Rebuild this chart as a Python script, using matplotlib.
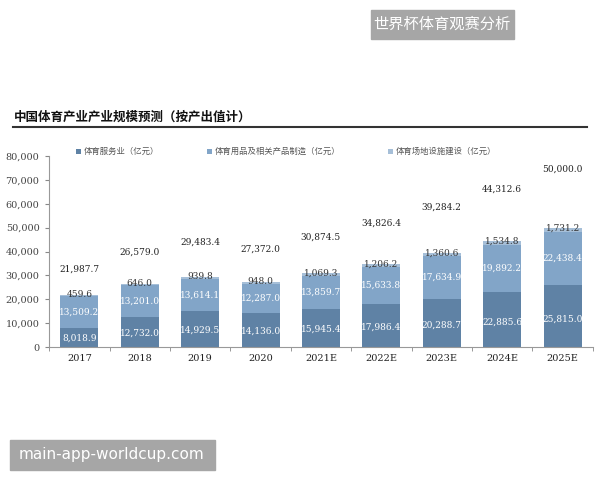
import matplotlib.pyplot as plt
import numpy as np
from matplotlib.patches import Rectangle

plt.rcParams['font.family'] = ['Noto Sans CJK SC', 'DejaVu Sans']

years = ['2017', '2018', '2019', '2020', '2021E', '2022E', '2023E', '2024E', '2025E']
service = [8018.9, 12732.0, 14929.5, 14136.0, 15945.4, 17986.4, 20288.7, 22885.6, 25815.0]
goods = [13509.2, 13201.0, 13614.1, 12287.0, 13859.7, 15633.8, 17634.9, 19892.2, 22438.4]
venue = [459.6, 646.0, 939.8, 948.0, 1069.3, 1206.2, 1360.6, 1534.8, 1731.2]
totals = [21987.7, 26579.0, 29483.4, 27372.0, 30874.5, 34826.4, 39284.2, 44312.6, 50000.0]
names = ['体育服务业（亿元）', '体育用品及相关产品制造（亿元）', '体育场地设施建设（亿元）']
colors = ['#5f82a5', '#82a5c8', '#a6bfd8']

fig = plt.figure(figsize=(6, 4.8), dpi=100)
ax = fig.add_axes([0.082, 0.277, 0.906, 0.398])

x = np.arange(len(years))
w = 0.63
s = np.array(service)
g = np.array(goods)
v = np.array(venue)
ax.bar(x, s, w, color=colors[0], label=names[0])
ax.bar(x, g, w, bottom=s, color=colors[1], label=names[1])
ax.bar(x, v, w, bottom=s + g, color=colors[2], label=names[2])

num = dict(family='DejaVu Serif', fontsize=6.5, ha='center', va='center')
for i in range(len(years)):
    ax.text(x[i], s[i] * 0.46, f'{s[i]:,.1f}', color='white', **num)
    ax.text(x[i], s[i] + g[i] * 0.5, f'{g[i]:,.1f}', color='white', **num)
    ax.text(x[i], s[i] + g[i] + v[i], f'{v[i]:,.1f}', color='#333333', **num)
    ax.text(x[i], totals[i] * 1.49, f'{totals[i]:,.1f}', color='#222222', **num)

ax.set_xlim(-0.5, len(years) - 0.5)
ax.set_ylim(0, 80000)
ax.set_yticks(np.arange(0, 80001, 10000))
ax.set_yticklabels([f'{t:,}' for t in range(0, 80001, 10000)],
                   family='DejaVu Serif', fontsize=7, color='#444444')
ax.set_xticks(x)
ax.set_xticklabels(years, family='DejaVu Serif', fontsize=7, color='#222222')
ax.set_xticks(np.arange(-0.5, len(years), 1), minor=True)
ax.tick_params(axis='x', which='major', length=0, pad=5)
ax.tick_params(axis='x', which='minor', length=3, color='#888888')
ax.tick_params(axis='y', length=3, color='#888888', pad=4)
for sp in ['top', 'right']:
    ax.spines[sp].set_visible(False)
ax.spines['left'].set_color('#999999')
ax.spines['bottom'].set_color('#999999')

ax.legend(loc='lower left', bbox_to_anchor=(0.035, 0.96), ncol=3, frameon=False,
          fontsize=6, handlelength=0.6, handleheight=0.6, handletextpad=0.3,
          columnspacing=5.8, labelcolor='#555555')

fig.text(0.023, 0.756, '中国体育产业产业规模预测（按产出值计）', fontsize=9,
         fontweight='bold', color='#111111', va='center')
fig.add_artist(plt.Line2D([0.022, 0.978], [0.735, 0.735], color='#333333', lw=1.5))

fig.add_artist(Rectangle((371 / 600, 1 - 39 / 480), 143 / 600, 29 / 480,
                         color='#a6a6a6', transform=fig.transFigure))
fig.text(442 / 600, 1 - 24.5 / 480, '世界杯体育观赛分析', fontsize=11,
         color='white', ha='center', va='center')
fig.add_artist(Rectangle((10 / 600, 1 - 470 / 480), 205 / 600, 30 / 480,
                         color='#a6a6a6', transform=fig.transFigure))
fig.text(112 / 600, 1 - 455 / 480, 'main-app-worldcup.com', fontsize=11,
         color='white', ha='center', va='center', family='DejaVu Sans')

fig.savefig('out.png', dpi=100)
